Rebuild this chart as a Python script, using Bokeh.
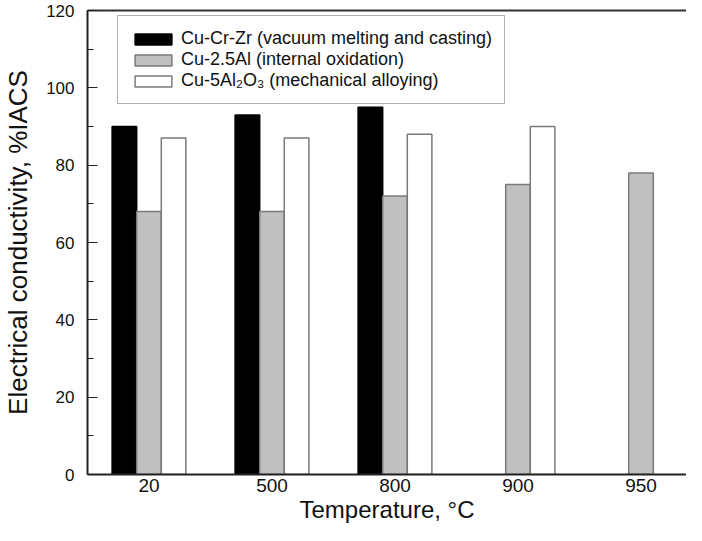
from bokeh.plotting import figure
from bokeh.models import (ColumnDataSource, Range1d, FixedTicker, SingleIntervalTicker,
                          LinearAxis, Legend, LegendItem)
from bokeh.embed import file_html
from bokeh.resources import INLINE

# ---- data ----
temperatures = ["20", "500", "800", "900", "950"]
cu_cr_zr = [90, 93, 95, None, None]        # vacuum melting and casting
cu_25al = [68, 68, 72, 75, 78]             # internal oxidation
cu_5al2o3 = [87, 87, 88, 90, None]         # mechanical alloying
series_names = ["Cu-Cr-Zr (vacuum melting and casting)",
                "Cu-2.5Al (internal oxidation)",
                "Cu-5Al\u2082O\u2083 (mechanical alloying)"]

FONT = "Liberation Sans"

p = figure(width=686, height=525, output_backend="svg", toolbar_location=None,
           x_range=Range1d(0.5, 5.37), y_range=Range1d(0, 120),
           min_border_left=86, min_border_right=0, min_border_top=10, min_border_bottom=50)
p.outline_line_color = None
p.xgrid.visible = False
p.ygrid.visible = False
p.background_fill_color = "white"
p.border_fill_color = "white"

positions = list(range(1, len(temperatures) + 1))
styles = [
    dict(fill_color="black", line_color="black"),
    dict(fill_color="#c0c0c0", line_color="#7a7a7a"),
    dict(fill_color="white", line_color="#7a7a7a"),
]
offsets = [-0.2, 0.0, 0.2]
renderers = []
for vals, st, off in zip([cu_cr_zr, cu_25al, cu_5al2o3], styles, offsets):
    xs = [x + off for x, v in zip(positions, vals) if v is not None]
    tops = [v for v in vals if v is not None]
    src = ColumnDataSource(dict(x=xs, top=tops))
    r = p.vbar(x="x", top="top", bottom=0, width=0.2, source=src,
               line_width=1.5, **st)
    renderers.append(r)

# x axis
p.xaxis.ticker = FixedTicker(ticks=positions)
p.xaxis.major_label_overrides = {pos: t for pos, t in zip(positions, temperatures)}
p.xaxis.major_tick_line_color = None
p.xaxis.minor_tick_line_color = None
p.xaxis.major_tick_out = 0
p.xaxis.major_tick_in = 0
p.xaxis.major_label_standoff = 4
p.xaxis.axis_label = "Temperature, \u00b0C"
p.xaxis.axis_label_standoff = 1
p.xaxis.axis_label_text_font = FONT
p.xaxis.axis_label_text_font_style = "normal"
p.xaxis.axis_label_text_font_size = "24px"
p.xaxis.major_label_text_font = FONT
p.xaxis.major_label_text_font_size = "19px"
p.xaxis.major_label_text_color = "#111111"
p.xaxis.axis_label_text_color = "#111111"
p.xaxis.axis_line_width = 2
p.xaxis.axis_line_color = "#222222"

# y axis
p.yaxis.ticker = SingleIntervalTicker(interval=20, num_minor_ticks=2)
p.yaxis.major_tick_in = 10
p.yaxis.major_tick_out = 0
p.yaxis.minor_tick_in = 6
p.yaxis.minor_tick_out = 0
p.yaxis.major_tick_line_color = "#222222"
p.yaxis.minor_tick_line_color = "#222222"
p.yaxis.major_label_standoff = 13
p.yaxis.axis_label = "Electrical conductivity, %IACS"
p.yaxis.axis_label_standoff = 10
p.yaxis.axis_label_text_font = FONT
p.yaxis.axis_label_text_font_style = "normal"
p.yaxis.axis_label_text_font_size = "26px"
p.yaxis.major_label_text_font = FONT
p.yaxis.major_label_text_font_size = "17px"
p.yaxis.major_label_text_color = "#111111"
p.yaxis.axis_label_text_color = "#111111"
p.yaxis.axis_line_width = 2
p.yaxis.axis_line_color = "#222222"

# top frame line (reference is cropped on the right)
top_axis = LinearAxis(ticker=FixedTicker(ticks=[]), major_tick_line_color=None,
                      minor_tick_line_color=None, major_label_text_font_size="0px",
                      axis_line_width=2, axis_line_color="#333333",
                      major_tick_out=0, major_tick_in=0, major_label_standoff=0)
p.add_layout(top_axis, "above")

legend = Legend(items=[LegendItem(label=n, renderers=[r]) for n, r in zip(series_names, renderers)],
                location=(30, 370), orientation="vertical",
                label_text_font=FONT, label_text_font_size="18px", label_text_color="#111111",
                glyph_width=46, glyph_height=14, label_height=21, label_standoff=5,
                padding=12, spacing=0, margin=0,
                border_line_color="#666666", border_line_width=1.5,
                background_fill_color="white", background_fill_alpha=1.0)
p.add_layout(legend, "center")

open("out.html", "w").write(file_html(p, INLINE))
